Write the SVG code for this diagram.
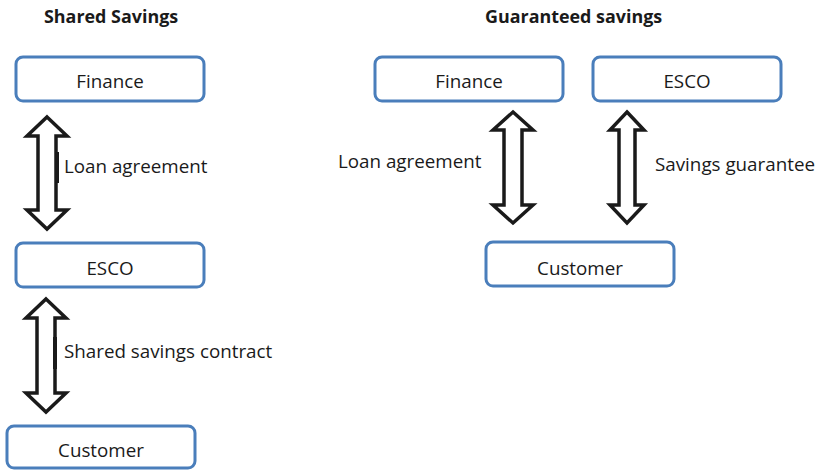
<svg xmlns="http://www.w3.org/2000/svg" width="819" height="470" viewBox="0 0 819 470">
<style>
.box{fill:#fff;stroke:#4a7ebb;stroke-width:3}
.t{font-family:"Open Sans","Liberation Sans",sans-serif;font-size:18.8px;fill:#1a1a1a}
.c{text-anchor:middle}
.h{font-family:"Open Sans","Liberation Sans",sans-serif;font-size:17.9px;font-weight:bold;fill:#1a1a1a}
.arr{fill:#fff;stroke:#1a1a1a;stroke-width:3.5;stroke-linejoin:miter}
</style>
<rect width="819" height="470" fill="#fff"/>
<text class="h" x="44" y="23">Shared Savings</text>
<text class="h" x="485" y="23">Guaranteed savings</text>

<g id="connectors">
<polygon class="arr" points="47,117 67,136 56,136 56,210 67,210 47,229 27,210 38,210 38,136 27,136"/>
<rect x="55" y="152" width="4" height="31" fill="#1a1a1a"/>
<polygon class="arr" points="46,299 66,318 55,318 55,393 66,393 46,412 26,393 37,393 37,318 26,318"/>
<rect x="53" y="337" width="4" height="32" fill="#1a1a1a"/>
<polygon class="arr" points="513,112 533,130 522,130 522,205 533,205 513,223 493,205 504,205 504,130 493,130"/>
<polygon class="arr" points="627,112 644,130 635,130 635,205 644,205 627,223 610,205 619,205 619,130 610,130"/>
</g>

<g id="finance-left"><rect class="box" x="16" y="57" width="188" height="44" rx="7"/><text class="t c" x="110" y="88">Finance</text></g>
<g id="esco-left"><rect class="box" x="16" y="243" width="188" height="44" rx="7"/><text class="t c" x="110" y="275">ESCO</text></g>
<g id="customer-left"><rect class="box" x="7" y="426" width="188" height="42" rx="7"/><text class="t c" x="101" y="457">Customer</text></g>
<g id="finance-right"><rect class="box" x="375" y="57" width="188" height="44" rx="7"/><text class="t c" x="469" y="88">Finance</text></g>
<g id="esco-right"><rect class="box" x="593" y="57" width="188" height="44" rx="7"/><text class="t c" x="687" y="88">ESCO</text></g>
<g id="customer-right"><rect class="box" x="486" y="242" width="188" height="44" rx="7"/><text class="t c" x="580" y="275">Customer</text></g>

<g id="labels">
<text class="t" x="64" y="173">Loan agreement</text>
<text class="t" x="64" y="358">Shared savings contract</text>
<text class="t" x="338" y="168">Loan agreement</text>
<text class="t" x="655" y="171">Savings guarantee</text>
</g>
</svg>
